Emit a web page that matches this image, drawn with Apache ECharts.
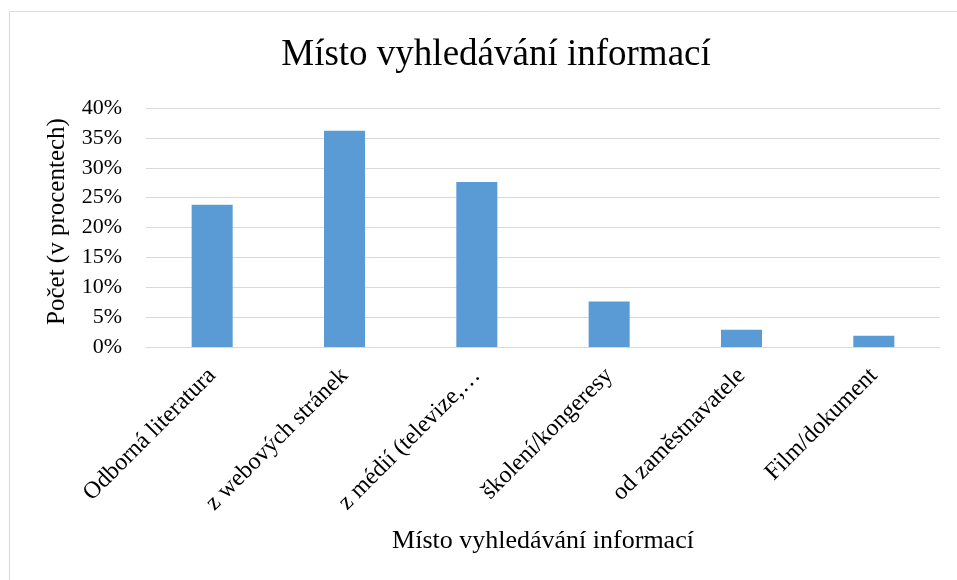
<!DOCTYPE html>
<html>
<head>
<meta charset="utf-8">
<script src="https://cdn.jsdelivr.net/npm/echarts@6/dist/echarts.min.js"></script>
<style>
html,body{margin:0;padding:0;background:#fff;}
#c{width:957px;height:580px;}
</style>
</head>
<body>
<div id="c"></div>
<script>
const categories = ["Odborná literatura", "z webových stránek", "z médií (televize,…", "školení/kongeresy", "od zaměstnavatele", "Film/dokument"];
const values = [23.8, 36.2, 27.6, 7.6, 2.9, 1.9];
const yTicks = [0, 5, 10, 15, 20, 25, 30, 35, 40];
const titleText = "Místo vyhledávání informací";
const xName = "Místo vyhledávání informací";
const yName = "Počet (v procentech)";

const FONT = '"Liberation Serif", "Times New Roman", serif';
const chart = echarts.init(document.getElementById('c'), null, {renderer: 'canvas'});
chart.setOption({
  backgroundColor: '#fff',
  animation: false,
  title: {
    text: titleText,
    left: 491, top: 32, textAlign: 'center',
    textStyle: {fontFamily: FONT, fontSize: 37, fontWeight: 'normal', color: '#000'}
  },
  graphic: [{
    type: 'rect', silent: true,
    shape: {x: 9.5, y: 11.5, width: 1200, height: 1200},
    style: {fill: 'none', stroke: '#d9d9d9', lineWidth: 1}
  }],
  grid: {left: 146, right: 17, top: 108, bottom: 233, containLabel: false},
  xAxis: {
    type: 'category',
    data: categories,
    name: xName,
    nameLocation: 'middle',
    nameGap: 181,
    nameTextStyle: {fontFamily: FONT, fontSize: 26, color: '#000'},
    axisLine: {show: true, lineStyle: {color: '#d9d9d9', width: 1}},
    axisTick: {show: false},
    axisLabel: {rotate: 45, interval: 0, margin: 25, fontFamily: FONT, fontSize: 24, color: '#000'}
  },
  yAxis: {
    type: 'value',
    min: yTicks[0], max: yTicks[yTicks.length - 1], interval: yTicks[1] - yTicks[0],
    name: yName,
    nameLocation: 'middle',
    nameGap: 76,
    nameRotate: 90,
    nameTextStyle: {fontFamily: FONT, fontSize: 25, color: '#000', padding: [0, 0, 0, 12]},
    axisLine: {show: false},
    axisTick: {show: false},
    axisLabel: {formatter: '{value}%', margin: 24, fontFamily: FONT, fontSize: 22, color: '#000'},
    splitLine: {show: true, lineStyle: {color: '#d9d9d9', width: 1}}
  },
  series: [{
    type: 'bar',
    data: values,
    barWidth: '31%',
    itemStyle: {color: '#5b9bd5'}
  }]
});
</script>
</body>
</html>
